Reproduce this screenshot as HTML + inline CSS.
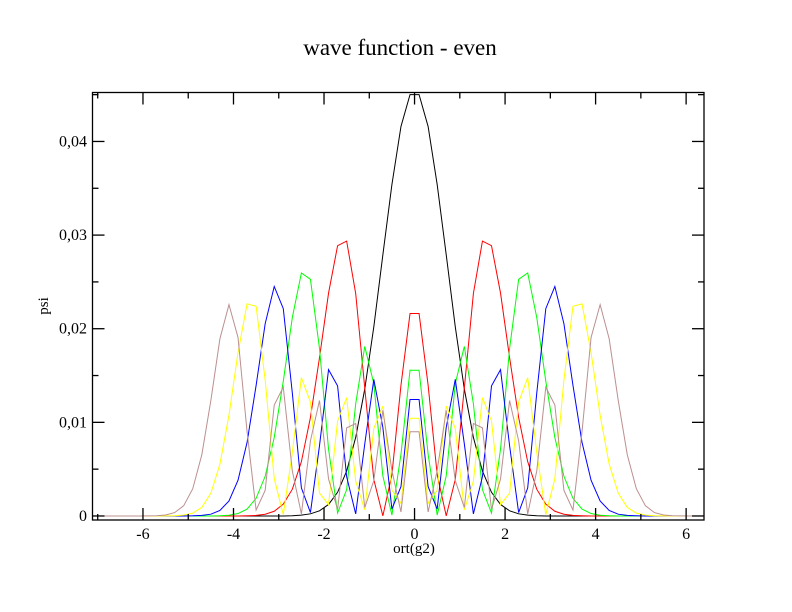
<!DOCTYPE html>
<html><head><meta charset="utf-8"><style>
html,body{margin:0;padding:0;background:#fff;}
svg{display:block;font-family:"Liberation Serif",serif;}
svg text{font-family:"Liberation Serif",serif;}
</style></head><body>
<svg id="chart" width="792" height="612" viewBox="0 0 792 612" xmlns="http://www.w3.org/2000/svg">
<rect width="792" height="612" fill="#fff"/>
<text x="400" y="55" font-size="23" font-family="Liberation Serif, serif" text-anchor="middle">wave function - even</text>
<text x="414" y="553" font-size="15" font-family="Liberation Serif, serif" text-anchor="middle">ort(g2)</text>
<text x="0" y="0" font-size="15" font-family="Liberation Serif, serif" text-anchor="middle" transform="translate(48,306) rotate(-90)">psi</text>
<defs><clipPath id="plotclip"><rect x="93" y="93" width="611" height="427"/></clipPath></defs>
<g id="series" clip-path="url(#plotclip)"></g>
<g id="axes"></g>
</svg>
<script>
const xs = [-6.9,-6.7,-6.5,-6.3,-6.1,-5.9,-5.7,-5.5,-5.3,-5.1,-4.9,-4.7,-4.5,-4.3,-4.1,-3.9,-3.7,-3.5,-3.3,-3.1,-2.9,-2.7,-2.5,-2.3,-2.1,-1.9,-1.7,-1.5,-1.3,-1.1,-0.9,-0.7,-0.5,-0.3,-0.1,
0.1,0.3,0.5,0.7,0.9,1.1,1.3,1.5,1.7,1.9,2.1,2.3,2.5,2.7,2.9,3.1,3.3,3.5,3.7,3.9,4.1,4.3,4.5,4.7,4.9,5.1,5.3,5.5,5.7,5.9,6.1,6.3,6.5,6.7,6.9];
const psi0 = [0,0,0,0,0,0,0,0,0,0,0,0,0,0,0,0,0,0,0,0,0,.00003,.00009,.00023,.00055,.00123,.00253,.00479,.00839,.01356,.0202,.0279,.0354,.0416,.0450,
.0450,.0416,.0354,.0279,.0202,.01356,.00839,.00479,.00253,.00123,.00055,.00023,.00009,.00003,0,0,0,0,0,0,0,0,0,0,0,0,0,0,0,0,0,0,0,0,0];
const psi2 = [0,0,0,0,0,0,0,0,0,0,0,0,0,0,0,0,.00002,.00006,.000183,.000505,.00126,.00286,.00580,.01052,.01691,.02380,.02887,.02936,.02376,.01367,.00389,.0000056,.00443,.01397,.02162,
.02162,.01397,.00443,.0000056,.00389,.01367,.02376,.02936,.02887,.02380,.01691,.01052,.00580,.00286,.00126,.000505,.000183,.00006,.00002,0,0,0,0,0,0,0,0,0,0,0,0,0,0,0,0];
const psi4 = [0,0,0,0,0,0,0,0,0,0,0,0,0,.00002,.000082,.00026,.00074,.00189,.00424,.00838,.01439,.02120,.02596,.02528,.01790,.00714,.000314,.00281,.01198,.01811,.01413,.00428,.0000922,.00660,.01556,
.01556,.00660,.0000922,.00428,.01413,.01811,.01198,.00281,.000314,.00714,.01790,.02528,.02596,.02120,.01439,.00838,.00424,.00189,.00074,.00026,.000082,.00002,0,0,0,0,0,0,0,0,0,0,0,0,0];
const psi6 = [0,0,0,0,0,0,0,0,0,0,.00002,.00006,.00019,.00059,.00160,.00382,.00786,.01395,.02054,.02451,.02215,.01312,.00300,.00036,.00750,.01563,.01389,.00420,.000221,.00770,.01459,.00946,.000739,.00314,.01244,
.01244,.00314,.000739,.00946,.01459,.00770,.000221,.00420,.01389,.01563,.00750,.00036,.00300,.01312,.02215,.02451,.02054,.01395,.00786,.00382,.00160,.00059,.00019,.00006,.00002,0,0,0,0,0,0,0,0,0,0];
const psi8 = [0,0,0,0,0,0,0,.000006,.000024,.000088,.00030,.00092,.00243,.00554,.01076,.01745,.02265,.02240,.01452,.00399,.00014,.00679,.01478,.01216,.00245,.00120,.01015,.01264,.00372,.00065,.00934,.01174,.00275,.00134,.01044,
.01044,.00134,.00275,.01174,.00934,.00065,.00372,.01264,.01015,.00120,.00245,.01216,.01478,.00679,.00014,.00399,.01452,.02240,.02265,.01745,.01076,.00554,.00243,.00092,.00030,.000088,.000024,.000006,0,0,0,0,0,0,0];
const psi10 = [0,0,0,0,0,.00001,.00003,.00010,.00036,.00110,.00291,.00654,.01234,.01893,.02257,.01907,.00900,.00063,.00274,.01185,.01376,.00480,.00021,.00803,.01233,.00395,.00069,.00941,.00987,.00090,.00377,.01129,.00486,.000426,.00900,
.00900,.000426,.00486,.01129,.00377,.00090,.00987,.00941,.00069,.00395,.01233,.00803,.00021,.00480,.01376,.01185,.00274,.00063,.00900,.01907,.02257,.01893,.01234,.00654,.00291,.00110,.00036,.00010,.00003,.00001,0,0,0,0,0];
const xTickLabels = ["-6","-4","-2","0","2","4","6"];
const xTickValues = [-6,-4,-2,0,2,4,6];
const yTickLabels = ["0","0,01","0,02","0,03","0,04"];
const yTickValues = [0,0.01,0.02,0.03,0.04];

const NS = "http://www.w3.org/2000/svg";
const L = 92.5, R = 704, T = 92.5, B = 520;
const xMin = -7.115, xMax = 6.395, yMin = -0.00043, yMax = 0.04523;
function sx(v){ return L + (v - xMin) / (xMax - xMin) * (R - L); }
function sy(v){ return B - (v - yMin) / (yMax - yMin) * (B - T); }

const seriesG = document.getElementById('series');
const seriesList = [
  {name:'psi-n0', data:psi0, color:'#000000'},
  {name:'psi-n2', data:psi2, color:'#ff0000'},
  {name:'psi-n4', data:psi4, color:'#00ff00'},
  {name:'psi-n6', data:psi6, color:'#0000ff'},
  {name:'psi-n8', data:psi8, color:'#ffff00'},
  {name:'psi-n10', data:psi10, color:'#bc8f8f'}
];
seriesList.forEach(s => {
  const pts = xs.map((x,i) => sx(x).toFixed(2) + ',' + sy(s.data[i]).toFixed(2)).join(' ');
  const pl = document.createElementNS(NS,'polyline');
  pl.setAttribute('points', pts);
  pl.setAttribute('fill','none');
  pl.setAttribute('stroke', s.color);
  pl.setAttribute('stroke-width','1');
  
  
  seriesG.appendChild(pl);
});

const ax = document.getElementById('axes');
function line(x1,y1,x2,y2,name){
  const l = document.createElementNS(NS,'line');
  l.setAttribute('x1',x1); l.setAttribute('y1',y1); l.setAttribute('x2',x2); l.setAttribute('y2',y2);
  l.setAttribute('stroke','#000'); l.setAttribute('stroke-width','1.3');
  
  
  ax.appendChild(l);
}
function text(x,y,str,anchor,name){
  const t = document.createElementNS(NS,'text');
  t.setAttribute('x',x); t.setAttribute('y',y); t.setAttribute('font-size','16');
  t.setAttribute('font-family','Liberation Serif, serif');
  t.setAttribute('text-anchor',anchor); t.textContent = str;
  
  
  ax.appendChild(t);
}
const fr = document.createElementNS(NS,'rect');
fr.setAttribute('x',L); fr.setAttribute('y',T); fr.setAttribute('width',R-L); fr.setAttribute('height',B-T);
fr.setAttribute('fill','none'); fr.setAttribute('stroke','#000'); fr.setAttribute('stroke-width','1.3');


ax.appendChild(fr);

for (let v = -7; v <= 6; v++) {
  const major = (v % 2 === 0);
  const len = major ? 12 : 6;
  const px = sx(v);
  line(px, B, px, B - len, major ? 'x-major-tick' : 'x-minor-tick');
  line(px, T, px, T + len, major ? 'x-major-tick-top' : 'x-minor-tick-top');
}
xTickValues.forEach((v,i) => text(sx(v), 539, xTickLabels[i], 'middle', 'x-tick-label'));
for (let k = 0; k <= 9; k++) {
  const v = k * 0.005;
  const major = (k % 2 === 0);
  const len = major ? 12 : 6;
  const py = sy(v);
  line(L, py, L + len, py, major ? 'y-major-tick' : 'y-minor-tick');
  line(R, py, R - len, py, major ? 'y-major-tick-right' : 'y-minor-tick-right');
}
yTickValues.forEach((v,i) => text(87, sy(v) + 5, yTickLabels[i], 'end', 'y-tick-label'));
</script>
</body></html>
